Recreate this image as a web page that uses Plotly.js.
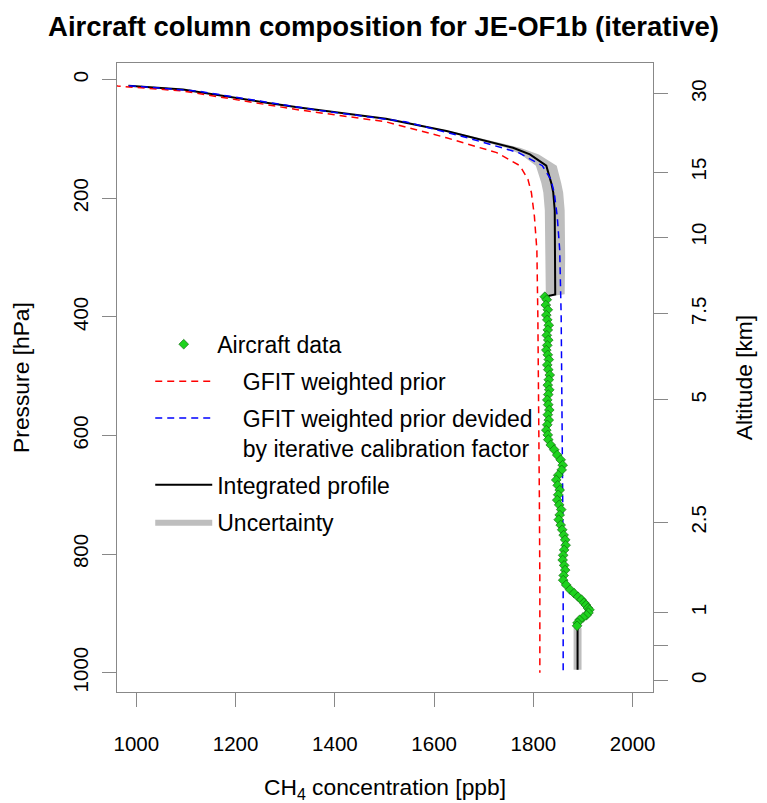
<!DOCTYPE html>
<html>
<head>
<meta charset="utf-8">
<script src="https://cdn.plot.ly/plotly-3.0.1.min.js"></script>
<style>html,body{margin:0;padding:0;background:#fff;}#chart{width:767px;height:803px;}</style>
</head>
<body>
<div id="chart"></div>
<script>
// ---- Data ----
// GFIT weighted prior (red dashed)
const priorP   = [8, 10.6, 19, 33, 51, 71, 97.9, 123, 145, 168, 190.6, 230, 287, 400, 540, 700, 850, 1000];
const priorCH4 = [955, 962, 1094, 1195, 1328, 1503, 1625, 1726, 1773, 1789, 1796, 1802, 1807, 1809, 1811, 1812, 1813, 1813];
// GFIT weighted prior divided by iterative calibration factor (blue dashed)
const scaledP   = [10, 19, 33, 51, 71, 97.9, 123, 145, 168, 190.6, 230, 287, 400, 540, 700, 850, 1000];
const scaledCH4 = [985, 1122, 1226, 1362, 1542, 1667, 1770, 1818, 1835, 1842, 1848, 1853, 1856, 1858, 1859, 1860, 1860];
// Integrated profile above the aircraft data (black)
const upperP   = [10, 13.5, 16.3, 23, 30.4, 38.8, 47, 54.5, 61.3, 66, 86.6, 114.7, 126, 145, 174, 190, 220, 300, 362];
const upperCH4 = [984, 1060, 1094, 1141, 1195, 1262, 1328, 1396, 1463, 1503, 1625, 1759, 1793, 1826, 1836, 1840, 1843, 1844, 1844];
const upperUnc = [0, 0, 0, 0, 0, 1, 1, 2, 2, 3, 6, 14, 18, 21, 20, 20, 20, 20, 19];
// Aircraft data (green diamonds)
const airP = [366, 371, 380, 388, 397, 405, 414, 422, 431, 439, 448, 456, 464, 472, 481, 489, 498, 506, 515, 523,
              531, 540, 548, 557, 565, 574, 582, 591, 599, 607, 616, 624, 633, 641, 650, 658, 667, 675, 684, 692,
              700, 709, 717, 725, 734, 742, 751, 759, 768, 776, 785, 793, 802, 810, 819, 827, 836, 844, 852, 860,
              866, 872, 877, 882, 886, 891, 894, 899, 903, 907, 911, 916, 921];
const airCH4 = [1823, 1827, 1825, 1829, 1826, 1828, 1831, 1829, 1827, 1830, 1828, 1826, 1829, 1831, 1828, 1830, 1833, 1831, 1829, 1832,
                1830, 1828, 1830, 1832, 1829, 1831, 1828, 1826, 1829, 1830, 1835, 1842, 1848, 1855, 1859, 1857, 1850, 1846, 1849, 1853,
                1850, 1848, 1852, 1856, 1853, 1851, 1855, 1858, 1861, 1864, 1865, 1862, 1860, 1859, 1862, 1864, 1861, 1860, 1866, 1874,
                1882, 1890, 1897, 1902, 1906, 1910, 1913, 1911, 1907, 1900, 1893, 1889, 1888];
const airUnc = 3;
// Integrated profile below the aircraft data
const lowerP   = [925, 960, 995];
const lowerCH4 = [1889, 1889, 1889];
const lowerUnc = [8, 8, 8];
// Axis ticks
const xTicks = [1000, 1200, 1400, 1600, 1800, 2000];
const pTicks = [0, 200, 400, 600, 800, 1000];
const altTickP = [23.6, 155.7, 265.4, 395, 540, 746.6, 898.6, 1012.8];
const altTickLabels = ['30', '15', '10', '7.5', '5', '2.5', '1', '0'];
const altMinorTickP = [954.4];

// ---- Build integrated profile and uncertainty band ----
const intP = upperP.concat(airP, lowerP);
const intCH4 = upperCH4.concat(airCH4, lowerCH4);
const intUnc = upperUnc.concat(airP.map(() => airUnc), lowerUnc);
const bandX = intCH4.map((v, i) => v + intUnc[i]).concat(intCH4.map((v, i) => v - intUnc[i]).reverse());
const bandY = intP.concat(intP.slice().reverse());

const FONT = 'Liberation Sans, Arial, Helvetica, sans-serif';
const IND = '\u00a0\u00a0\u00a0\u00a0';

const traces = [
  {x: bandX, y: bandY, type: 'scatter', mode: 'lines', fill: 'toself', fillcolor: 'rgb(190,190,190)',
   line: {width: 0, color: 'rgb(190,190,190)'}, name: 'Uncertainty', legendgroup: 'g5', legendrank: 5, hoverinfo: 'skip'},
  {x: intCH4, y: intP, type: 'scatter', mode: 'lines', line: {color: '#000', width: 2},
   name: 'Integrated profile', legendgroup: 'g4', legendrank: 4},
  {x: priorCH4, y: priorP, type: 'scatter', mode: 'lines', line: {color: '#ff0000', width: 1.5, dash: '7px,5px'},
   name: IND + 'GFIT weighted prior', legendgroup: 'g2', legendrank: 2},
  {x: scaledCH4, y: scaledP, type: 'scatter', mode: 'lines', line: {color: '#0000ff', width: 1.5, dash: '7px,5px'},
   name: IND + 'GFIT weighted prior devided<br>' + IND + 'by iterative calibration factor', legendgroup: 'g3', legendrank: 3},
  {x: airCH4, y: airP, yaxis: 'y2', type: 'scatter', mode: 'markers',
   marker: {symbol: 'diamond', size: 7.5, color: '#1ed21e', line: {width: 0.6, color: '#0b5a0b'}},
   name: 'Aircraft data', legendgroup: 'g1', legendrank: 1}
];

const yRange = [1032.6, -28.2];
const layout = {
  width: 767, height: 803,
  margin: {l: 117, r: 114, t: 63, b: 111},
  paper_bgcolor: '#fff', plot_bgcolor: '#fff',
  font: {family: FONT, size: 20, color: '#000'},
  title: {text: '<b>Aircraft column composition for JE-OF1b (iterative)</b>', font: {family: FONT, size: 27.5, color: '#000'},
          x: 0.5, xanchor: 'center', y: 1 - 26 / 803, yanchor: 'middle', yref: 'container'},
  showlegend: true,
  legend: {x: 0.062, y: 0.587, xanchor: 'left', yanchor: 'top', bgcolor: 'rgba(0,0,0,0)',
           font: {family: FONT, size: 23, color: '#000'}, traceorder: 'grouped', tracegroupgap: 4, valign: 'top', itemwidth: 57},
  xaxis: {range: [961, 2041], tickvals: xTicks, ticks: 'outside', ticklen: 14, tickcolor: '#888', tickwidth: 1,
          showline: true, mirror: true, linecolor: '#888', linewidth: 1, showgrid: false, zeroline: false,
          tickfont: {size: 20.5}, ticklabelstandoff: 19,
          title: {text: 'CH<sub>4</sub> concentration [ppb]', font: {size: 22.8}, standoff: 30}},
  yaxis: {range: yRange, tickvals: pTicks, ticks: 'outside', ticklen: 14, tickcolor: '#888', tickwidth: 1,
          showline: true, mirror: true, linecolor: '#888', linewidth: 1, showgrid: false, zeroline: false,
          tickangle: -90, tickfont: {size: 20.5}, ticklabelstandoff: 6,
          title: {text: 'Pressure [hPa]', font: {size: 22.8}, standoff: 32}},
  yaxis2: {range: yRange, overlaying: 'y', side: 'right', tickmode: 'array', tickvals: altTickP, ticktext: altTickLabels,
           ticks: 'outside', ticklen: 14, tickcolor: '#888', tickwidth: 1, showline: true, linecolor: '#888',
           minor: {tickmode: 'array', tickvals: altMinorTickP, ticks: 'outside', ticklen: 14, tickcolor: '#888', tickwidth: 1, showgrid: false},
           showgrid: false, zeroline: false, tickangle: -90, tickfont: {size: 20.5}, ticklabelstandoff: 13,
           title: {text: 'Altitude [km]', font: {size: 22.8}, standoff: 27}}
};

Plotly.newPlot('chart', traces, layout, {displayModeBar: false, staticPlot: true});
</script>
</body>
</html>
